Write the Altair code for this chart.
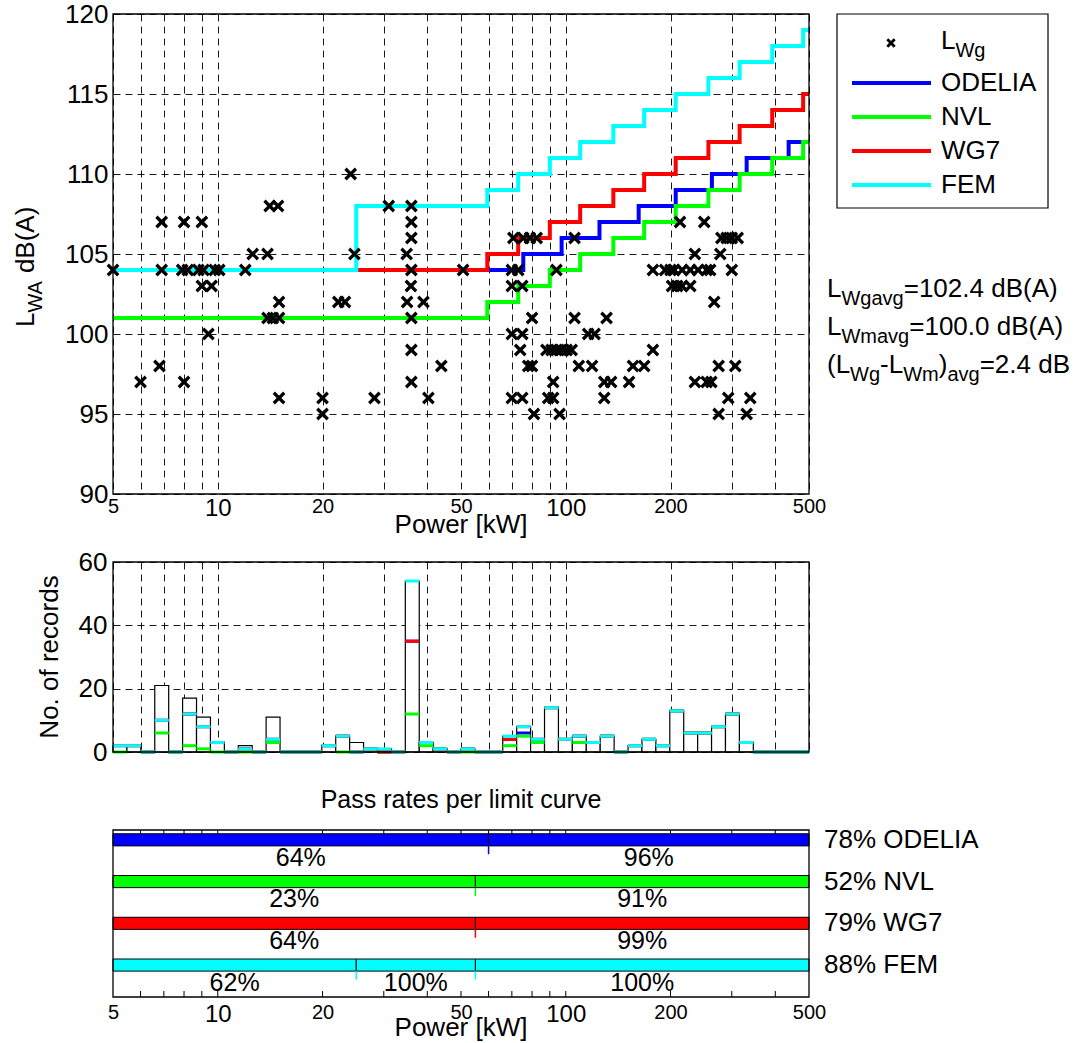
import altair as alt
import numpy as np
import pandas as pd

FONT = "Liberation Sans"
BLUE, GREEN, RED, CYAN = "#0000ff", "#00ff00", "#ff0000", "#00ffff"

# ---------------- measured records: power [kW] and L_Wg [dB(A)] ----------------
rec_power = [5.0, 6.0, 6.8, 6.9, 6.9, 7.9, 8.0, 8.0, 8.2, 8.8, 9.0, 9.0, 9.1, 9.4, 9.6,
             9.8, 10.1, 12.0, 12.6, 13.9, 13.9, 14.1, 14.4, 14.9, 15.0, 15.0, 15.0,
             20.0, 20.0, 22.2, 23.2, 24.1, 24.7, 28.2, 31.0, 34.9, 35.0, 36.0, 36.0,
             36.0, 36.0, 35.9, 36.0, 36.0, 36.0, 39.0, 40.3, 43.9, 50.7,
             70.0, 73.0, 70.0, 75.0, 70.7, 75.5, 78.9, 82.5, 80.0, 70.0, 75.0, 74.0,
             78.0, 80.0, 70.0, 75.0, 81.0, 88.0, 91.0, 94.0, 97.0, 100.6, 104.0, 92.0,
             89.0, 92.0, 96.0, 94.0, 106.0, 106.0, 109.0, 119.0, 116.0, 121.0, 131.0,
             129.0, 135.0, 129.0, 152.0, 156.0, 168.0, 178.0, 178.0, 193.0, 200.0,
             205.0, 202.0, 209.0, 216.0, 228.0, 216.0, 228.0, 240.0, 254.0, 260.0,
             300.0, 213.0, 250.0, 235.0, 278.0, 280.0, 290.0, 300.0, 312.0, 267.0,
             235.0, 254.0, 262.0, 275.0, 307.0, 293.0, 339.0, 275.0, 331.0]
rec_level = [104, 97, 98, 104, 107, 104, 97, 107, 104, 104, 103, 107, 104, 100, 103,
             104, 104, 104, 105, 105, 101, 108, 101, 108, 101, 102, 96,
             96, 95, 102, 102, 110, 105, 96, 108, 105, 102, 108, 107,
             106, 104, 103, 101, 99, 97, 102, 96, 98, 104,
             104, 104, 103, 103, 106, 106, 106, 106, 101, 100, 100, 99,
             98, 98, 96, 96, 95, 99, 99, 99, 99, 99, 99, 97,
             96, 96, 95, 104, 106, 101, 98, 98, 100, 100, 101,
             97, 97, 96, 97, 98, 98, 99, 104, 104, 104,
             104, 103, 103, 103, 103, 104, 104, 104, 104, 104,
             104, 107, 107, 105, 105, 106, 106, 106, 106, 102,
             97, 97, 97, 98, 98, 96, 96, 95, 95]

# ---------------- limit curves (level valid from each start power) ----------------
odelia_kw = [5, 75.5, 97.3, 125, 162, 207, 263, 331, 437, 500]
odelia_db = [104, 105, 106, 107, 108, 109, 110, 111, 112, 112]
nvl_kw = [5, 59.5, 73, 90, 110, 137, 168, 207, 257, 316, 392, 481, 500]
nvl_db = [101, 102, 103, 104, 105, 106, 107, 108, 109, 110, 111, 112, 112]
wg7_kw = [5, 59.5, 73, 90, 110, 137, 168, 207, 257, 316, 392, 481, 500]
wg7_db = [104, 105, 106, 107, 108, 109, 110, 111, 112, 113, 114, 115, 115]
fem_kw = [5, 25, 59.5, 73, 90, 110, 137, 168, 207, 257, 316, 392, 481, 500]
fem_db = [104, 108, 109, 110, 111, 112, 113, 114, 115, 116, 117, 118, 119, 119]

# ---------------- histogram: 50 log-spaced power classes 5..500 kW ----------------
n_records = [2, 2, 0, 21, 0, 17, 11, 3, 0, 2, 0, 11, 0, 0, 0, 2, 5, 3, 1, 1,
             0, 54, 3, 1, 0, 1, 0, 0, 5, 8, 4, 14, 4, 5, 3, 5, 0, 2, 4, 2,
             13, 6, 6, 8, 12, 3, 0, 0, 0, 0]
n_odelia = [2, 2, 0, 10, 0, 12, 8, 3, 0, 1, 0, 4, 0, 0, 0, 2, 5, 0, 1, 0,
            0, 35, 3, 1, 0, 1, 0, 0, 4, 6, 4, 14, 4, 5, 3, 5, 0, 2, 4, 2,
            13, 6, 6, 8, 12, 3, 0, 0, 0, 0]
n_nvl = [0, 2, 0, 6, 0, 2, 1, 0, 0, 0, 0, 3, 0, 0, 0, 2, 0, 0, 1, 0,
         0, 12, 2, 1, 0, 0, 0, 0, 2, 5, 3, 14, 4, 3, 3, 5, 0, 2, 4, 2,
         13, 6, 6, 8, 12, 3, 0, 0, 0, 0]
n_wg7 = [2, 2, 0, 10, 0, 12, 8, 3, 0, 1, 0, 4, 0, 0, 0, 2, 5, 0, 1, 0,
         0, 35, 3, 1, 0, 1, 0, 0, 4, 8, 4, 14, 4, 5, 3, 5, 0, 2, 4, 2,
         13, 6, 6, 8, 12, 3, 0, 0, 0, 0]
n_fem = [2, 2, 0, 10, 0, 12, 8, 3, 0, 1, 0, 4, 0, 0, 0, 2, 5, 0, 1, 1,
         0, 54, 3, 1, 0, 1, 0, 0, 5, 8, 4, 14, 4, 5, 3, 5, 0, 2, 4, 2,
         13, 6, 6, 8, 12, 3, 0, 0, 0, 0]

# ---------------- pass rates per limit curve ----------------
pass_names = ["ODELIA", "NVL", "WG7", "FEM"]
pass_overall = ["78%", "52%", "79%", "88%"]
seg_curve = ["ODELIA", "ODELIA", "NVL", "NVL", "WG7", "WG7", "FEM", "FEM", "FEM"]
seg_from = [5, 60, 5, 55, 5, 55, 5, 25, 55]
seg_to = [60, 500, 55, 500, 55, 500, 25, 55, 500]
seg_rate = ["64%", "96%", "23%", "91%", "64%", "99%", "62%", "100%", "100%"]

grid_kw = [5, 6, 7, 8, 9, 10, 20, 30, 40, 50, 60, 70, 80, 90, 100, 200, 300, 400, 500]
label_kw = [5, 10, 20, 50, 100, 200, 500]

COLORS = {"ODELIA": BLUE, "NVL": GREEN, "WG7": RED, "FEM": CYAN}

# ---------------- layout ----------------
W = 696
H_TOP, H_HIST, H_PASS = 480, 190, 177
ONE = pd.DataFrame({"k": [0]})
XMARK = "M-1,-1L1,1M-1,1L1,-1"
GRID_DASH = [7, 5]

xs = alt.Scale(type="log", domain=[5, 500], nice=False)
ys_top = alt.Scale(domain=[90, 120], nice=False, zero=False)
ys_hist = alt.Scale(domain=[0, 60], nice=False)
ys_pass = alt.Scale(domain=[-0.24, 4], reverse=True, nice=False, zero=False)

lab_expr = "indexof(%s, datum.value) >= 0 ? '' + datum.value : ''" % label_kw
lab_size = {"condition": {"test": "datum.value == 10 || datum.value == 100", "value": 24},
            "value": 20}

ax_top_x = alt.Axis(values=grid_kw, grid=True, gridDash=GRID_DASH, gridColor="black",
                    gridWidth=1, gridOpacity=0.9, ticks=False, domain=False,
                    labelExpr=lab_expr, labelFontSize=lab_size, labelPadding=2,
                    labelOverlap=False, labelFlush=False, labelBound=False, title=None)
ax_top_y = alt.Axis(values=[90, 95, 100, 105, 110, 115, 120], grid=True, gridDash=GRID_DASH,
                    gridColor="black", gridWidth=1, gridOpacity=0.9, ticks=False,
                    domain=False, labelFontSize=26, labelPadding=5, title=None)
ax_hist_x = alt.Axis(values=grid_kw, grid=True, gridDash=GRID_DASH, gridColor="black",
                     gridWidth=1, gridOpacity=0.9, ticks=False, domain=False, labels=False,
                     title=None)
ax_hist_y = alt.Axis(values=[0, 20, 40, 60], grid=True, gridDash=GRID_DASH, gridColor="black",
                     gridWidth=1, gridOpacity=0.9, ticks=False, domain=False,
                     labelFontSize=26, labelPadding=6, title=None)
ax_pass_x = alt.Axis(values=label_kw, grid=False, ticks=False, domain=False,
                     labelExpr=lab_expr, labelFontSize=lab_size, labelPadding=5,
                     labelOverlap=False, labelFlush=False, labelBound=False, title=None)

# Arial-compatible advance widths (per 1000 em) for placing subscript pieces
ADV = {"L": 556, "W": 944, "g": 556, "a": 556, "v": 500, "m": 833, "=": 584, ".": 278,
       " ": 278, "d": 556, "B": 667, "(": 333, ")": 333, "A": 667, "-": 333}


def tw(s, size):
    return sum(ADV.get(c, 556) for c in s) * size / 1000.0


def rich(pieces, x0, y0, vertical=False, big=26, small=20, drop=8):
    """Text with subscripts, built from several text marks."""
    out = []
    pos = 0.0
    for txt, sub in pieces:
        size = small if sub else big
        off = drop if sub else 0
        if txt.strip():
            if vertical:
                x, y, ang = x0 + off, y0 - pos, 270
            else:
                x, y, ang = x0 + pos, y0 + off, 0
            out.append(alt.Chart(ONE).mark_text(text=txt, align="left", baseline="alphabetic",
                                                fontSize=size, font=FONT, color="black",
                                                angle=ang)
                       .encode(x=alt.value(x), y=alt.value(y)))
        pos += tw(txt, size)
    return out


def label(txt, x, y, size=26, align="left", baseline="middle", angle=0):
    return alt.Chart(ONE).mark_text(text=txt, align=align, baseline=baseline, fontSize=size,
                                    font=FONT, color="black", angle=angle
                                    ).encode(x=alt.value(x), y=alt.value(y))


# ================= top panel: levels and limit curves =================
top_layers = []
curves = [(odelia_kw, odelia_db, BLUE), (nvl_kw, nvl_db, GREEN),
          (wg7_kw, wg7_db, RED), (fem_kw, fem_db, CYAN)]
for kw, db, col in curves:
    top_layers.append(
        alt.Chart(pd.DataFrame({"p": kw, "L": db}))
        .mark_line(interpolate="step-after", strokeWidth=4, color=col, strokeCap="butt",
                   clip=True)
        .encode(x=alt.X("p:Q", scale=xs, axis=ax_top_x),
                y=alt.Y("L:Q", scale=ys_top, axis=ax_top_y)))

top_layers.append(
    alt.Chart(pd.DataFrame({"p": rec_power, "L": rec_level}))
    .mark_point(shape=XMARK, size=110, strokeWidth=3.2, color="black", opacity=1, filled=False)
    .encode(x=alt.X("p:Q", scale=xs, axis=ax_top_x),
            y=alt.Y("L:Q", scale=ys_top, axis=ax_top_y)))

top_frame = pd.DataFrame({"x0": [5], "x1": [500], "y0": [90], "y1": [120]})
top_layers.append(
    alt.Chart(top_frame).mark_rect(filled=False, stroke="black", strokeWidth=1.3)
    .encode(x=alt.X("x0:Q", scale=xs, axis=ax_top_x), x2="x1:Q",
            y=alt.Y("y0:Q", scale=ys_top, axis=ax_top_y), y2="y1:Q"))

# legend box
top_layers.append(alt.Chart(ONE).mark_rect(fill="white", stroke="black", strokeWidth=1.2)
                  .encode(x=alt.value(724), x2=alt.value(935), y=alt.value(0), y2=alt.value(194)))
top_layers.append(alt.Chart(ONE).mark_point(shape=XMARK, size=55, strokeWidth=2.8, color="black",
                                            opacity=1, filled=False)
                  .encode(x=alt.value(778), y=alt.value(29)))
top_layers += rich([("L", 0), ("Wg", 1)], 828, 35)
for i, name in enumerate(pass_names):
    yy = 69 + 34 * i
    top_layers.append(alt.Chart(ONE).mark_rule(strokeWidth=4, color=COLORS[name])
                      .encode(x=alt.value(739), x2=alt.value(818), y=alt.value(yy)))
    top_layers.append(label(name, 828, yy))

# averages beside the plot
top_layers += rich([("L", 0), ("Wgavg", 1), ("=102.4 dB(A)", 0)], 714, 283)
top_layers += rich([("L", 0), ("Wmavg", 1), ("=100.0 dB(A)", 0)], 714, 321)
top_layers += rich([("(L", 0), ("Wg", 1), ("-L", 0), ("Wm", 1), (")", 0), ("avg", 1),
                    ("=2.4 dB", 0)], 714, 359)

# axis titles
top_layers += rich([("L", 0), ("WA", 1), (" ", 0), ("dB(A)", 0)], -79, 313, vertical=True)
top_layers.append(label("Power [kW]", W / 2, 519, baseline="alphabetic", align="center"))

# keeps the plot origin at a fixed offset from the page corner
top_layers.append(alt.Chart(ONE).mark_rule(strokeOpacity=0, strokeWidth=1)
                  .encode(x=alt.value(-112.5), x2=alt.value(-111), y=alt.value(-14)))

top = alt.layer(*top_layers).properties(width=W, height=H_TOP)

# ================= histogram panel =================
edges = 5 * 10 ** (np.arange(len(n_records) + 1) * 0.04)
hist_df = pd.DataFrame({"lo": edges[:-1], "hi": edges[1:], "n": n_records, "zero": 0,
                        "ODELIA": n_odelia, "NVL": n_nvl, "WG7": n_wg7, "FEM": n_fem})

hist_layers = [
    alt.Chart(hist_df).mark_rect(fill="white", stroke="black", strokeWidth=1.2)
    .encode(x=alt.X("lo:Q", scale=xs, axis=ax_hist_x), x2="hi:Q",
            y=alt.Y("n:Q", scale=ys_hist, axis=ax_hist_y), y2="zero:Q")
]
for name in pass_names:
    hist_layers.append(
        alt.Chart(hist_df).mark_rule(strokeWidth=3, color=COLORS[name])
        .encode(x=alt.X("lo:Q", scale=xs, axis=ax_hist_x), x2="hi:Q",
                y=alt.Y(f"{name}:Q", scale=ys_hist, axis=ax_hist_y)))
hist_frame = pd.DataFrame({"x0": [5], "x1": [500], "y0": [0], "y1": [60]})
hist_layers.append(
    alt.Chart(hist_frame).mark_rect(filled=False, stroke="black", strokeWidth=1.3)
    .encode(x=alt.X("x0:Q", scale=xs, axis=ax_hist_x), x2="x1:Q",
            y=alt.Y("y0:Q", scale=ys_hist, axis=ax_hist_y), y2="y1:Q"))
hist_layers.append(label("No. of records", -55, H_HIST / 2, align="center",
                         baseline="alphabetic", angle=270))
hist = alt.layer(*hist_layers).properties(width=W, height=H_HIST)

# ================= pass-rate panel =================
row_of = {n: i for i, n in enumerate(pass_names)}
seg_df = pd.DataFrame({"curve": seg_curve, "lo": seg_from, "hi": seg_to, "rate": seg_rate})
seg_df["row"] = seg_df["curve"].map(row_of)
seg_df["b0"] = seg_df["row"] + 0.09
seg_df["b1"] = seg_df["row"] + 0.38
seg_df["t0"] = seg_df["row"] + 0.58
seg_df["ty"] = seg_df["row"] + 0.66
seg_df["mid"] = np.sqrt(seg_df["lo"] * seg_df["hi"])
split_df = seg_df[seg_df["lo"] > 5]

pass_layers = []
for name in pass_names:
    d = seg_df[seg_df["curve"] == name]
    pass_layers.append(
        alt.Chart(d).mark_rect(fill=COLORS[name], stroke="black", strokeWidth=1)
        .encode(x=alt.X("lo:Q", scale=xs, axis=ax_pass_x), x2="hi:Q",
                y=alt.Y("b0:Q", scale=ys_pass, axis=None), y2="b1:Q"))
    s = split_df[split_df["curve"] == name]
    pass_layers.append(
        alt.Chart(s).mark_rule(strokeWidth=1.5, color=COLORS[name])
        .encode(x=alt.X("lo:Q", scale=xs, axis=ax_pass_x),
                y=alt.Y("b1:Q", scale=ys_pass, axis=None), y2="t0:Q"))

pass_layers.append(
    alt.Chart(seg_df).mark_text(fontSize=25, font=FONT, color="black", baseline="middle")
    .encode(x=alt.X("mid:Q", scale=xs, axis=ax_pass_x),
            y=alt.Y("ty:Q", scale=ys_pass, axis=None), text="rate:N"))

overall_df = pd.DataFrame({"txt": [f"{p} {n}" for p, n in zip(pass_overall, pass_names)],
                           "yc": [row_of[n] + 0.235 for n in pass_names]})
pass_layers.append(
    alt.Chart(overall_df).mark_text(fontSize=26, font=FONT, color="black", align="left",
                                    baseline="middle")
    .encode(x=alt.value(711), y=alt.Y("yc:Q", scale=ys_pass, axis=None), text="txt:N"))

tick_df = pd.DataFrame({"t": grid_kw[1:-1]})
pass_layers.append(alt.Chart(tick_df).mark_rule(strokeWidth=1, color="black")
                   .encode(x=alt.X("t:Q", scale=xs, axis=ax_pass_x),
                           y=alt.value(10), y2=alt.value(14)))
pass_layers.append(alt.Chart(tick_df).mark_rule(strokeWidth=1, color="black")
                   .encode(x=alt.X("t:Q", scale=xs, axis=ax_pass_x),
                           y=alt.value(H_PASS), y2=alt.value(H_PASS - 6)))

pass_frame = pd.DataFrame({"x0": [5], "x1": [500], "y0": [0], "y1": [4]})
pass_layers.append(
    alt.Chart(pass_frame).mark_rect(filled=False, stroke="black", strokeWidth=1.3)
    .encode(x=alt.X("x0:Q", scale=xs, axis=ax_pass_x), x2="x1:Q",
            y=alt.Y("y0:Q", scale=ys_pass, axis=None), y2="y1:Q"))
pass_layers.append(label("Pass rates per limit curve", W / 2, -20, size=25, align="center"))
pass_layers.append(label("Power [kW]", W / 2, 216, baseline="alphabetic", align="center"))
passc = alt.layer(*pass_layers).properties(width=W, height=H_PASS)

chart = (
    alt.vconcat(top, hist, passc, spacing=68, bounds="flush")
    .resolve_scale(x="independent", y="independent")
    .configure_view(stroke=None)
    .configure_axis(labelFont=FONT, labelColor="black")
    .properties(padding=0, background="white")
)

chart.save("out.html", embed_options={"renderer": "svg", "actions": False})
